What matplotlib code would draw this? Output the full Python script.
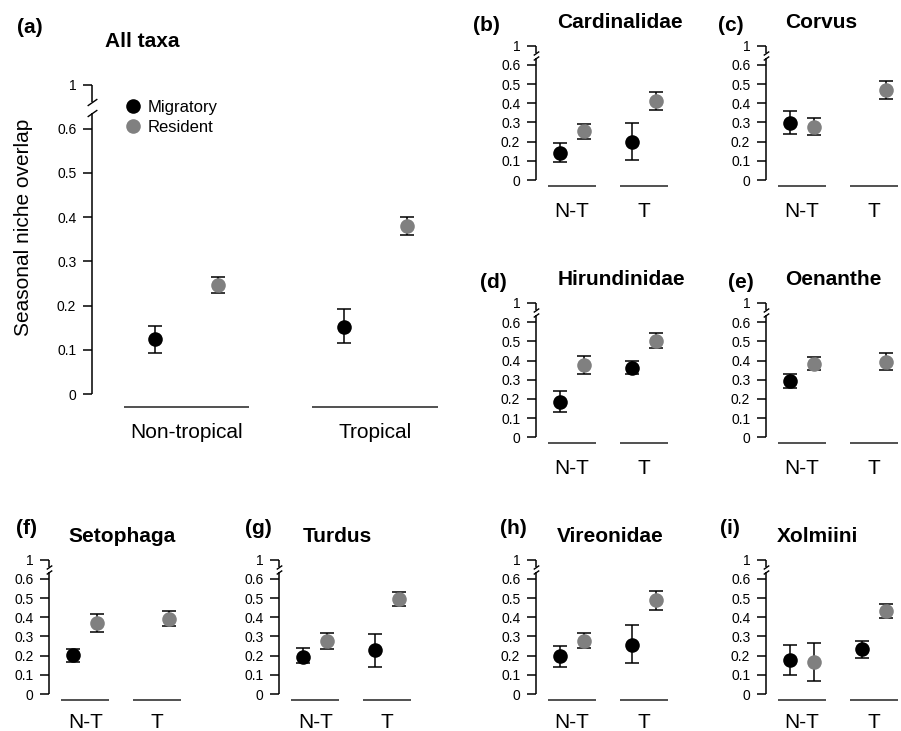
import matplotlib
matplotlib.use('Agg')
import matplotlib.pyplot as plt
import numpy as np
from matplotlib.path import Path
from matplotlib.lines import Line2D

plt.rcParams['font.family'] = ['Liberation Sans', 'DejaVu Sans']

# ---------------- data ----------------
groups_big = ['Non-tropical', 'Tropical']
groups_small = ['N-T', 'T']
ytick_vals = [0, 0.1, 0.2, 0.3, 0.4, 0.5, 0.6, 0.7]
ytick_labels = ['0', '0.1', '0.2', '0.3', '0.4', '0.5', '0.6', '1']

nan = np.nan
a_mig = [0.124, 0.152]; a_mig_lo = [0.092, 0.115]; a_mig_hi = [0.154, 0.192]
a_res = [0.247, 0.379]; a_res_lo = [0.229, 0.360]; a_res_hi = [0.265, 0.400]

b_mig = [0.142, 0.200]; b_mig_lo = [0.094, 0.102]; b_mig_hi = [0.191, 0.299]
b_res = [0.255, 0.411]; b_res_lo = [0.215, 0.366]; b_res_hi = [0.293, 0.460]

c_mig = [0.295, nan]; c_mig_lo = [0.241, nan]; c_mig_hi = [0.358, nan]
c_res = [0.278, 0.469]; c_res_lo = [0.236, 0.420]; c_res_hi = [0.325, 0.514]

d_mig = [0.185, 0.363]; d_mig_lo = [0.131, 0.329]; d_mig_hi = [0.240, 0.396]
d_res = [0.379, 0.503]; d_res_lo = [0.332, 0.464]; d_res_hi = [0.426, 0.545]

e_mig = [0.292, nan]; e_mig_lo = [0.258, nan]; e_mig_hi = [0.332, nan]
e_res = [0.384, 0.393]; e_res_lo = [0.349, 0.349]; e_res_hi = [0.419, 0.438]

f_mig = [0.203, nan]; f_mig_lo = [0.169, nan]; f_mig_hi = [0.233, nan]
f_res = [0.369, 0.393]; f_res_lo = [0.323, 0.355]; f_res_hi = [0.417, 0.433]

g_mig = [0.195, 0.230]; g_mig_lo = [0.160, 0.143]; g_mig_hi = [0.240, 0.313]
g_res = [0.275, 0.496]; g_res_lo = [0.233, 0.459]; g_res_hi = [0.317, 0.530]

h_mig = [0.198, 0.257]; h_mig_lo = [0.143, 0.160]; h_mig_hi = [0.252, 0.357]
h_res = [0.278, 0.489]; h_res_lo = [0.237, 0.438]; h_res_hi = [0.320, 0.536]

i_mig = [0.177, 0.233]; i_mig_lo = [0.101, 0.188]; i_mig_hi = [0.256, 0.277]
i_res = [0.169, 0.431]; i_res_lo = [0.068, 0.397]; i_res_hi = [0.264, 0.468]

MIG_COLOR = 'black'
RES_COLOR = '#808080'

# ---------------- layout helpers ----------------
W, H = 901, 731
fig = plt.figure(figsize=(W / 100, H / 100), dpi=100)

XLIM = (0.5, 2.37)
YLIM = (-0.04, 0.72)


def add_ax(x0px, y0px, pxx, pxy):
    left = x0px
    right = x0px + (XLIM[1] - XLIM[0]) * pxx
    bottom_px = y0px - YLIM[0] * pxy
    top_px = y0px - YLIM[1] * pxy
    ax = fig.add_axes([left / W, 1 - bottom_px / H, (right - left) / W,
                       (bottom_px - top_px) / H])
    ax.set_xlim(XLIM)
    ax.set_ylim(YLIM)
    ax.patch.set_alpha(0)
    return ax


slash = Path([(-1.0, -0.7), (1.0, 0.7)], [Path.MOVETO, Path.LINETO])


def draw(ax, mig, mlo, mhi, res, rlo, rhi, labels, big, xpad):
    x = np.array([1.0, 2.0])
    off = 1 / 6
    for vals, lo, hi, col, dx in [(mig, mlo, mhi, MIG_COLOR, -off),
                                  (res, rlo, rhi, RES_COLOR, off)]:
        v = np.array(vals, float)
        l = np.array(lo, float)
        h = np.array(hi, float)
        ok = ~np.isnan(v)
        ax.errorbar(x[ok] + dx, v[ok], yerr=[v[ok] - l[ok], h[ok] - v[ok]],
                    fmt='none', ecolor='black', elinewidth=1.1,
                    capsize=5, capthick=1.1, clip_on=False, zorder=2)
        ax.plot(x[ok] + dx, v[ok], ls='none', marker='o', ms=10.5,
                color=col, mec=col, mew=0, clip_on=False, zorder=3)
    # group lines
    ax.hlines(np.full(2, -0.03), x - 1 / 3, x + 1 / 3, color='#333333',
              lw=1.2, clip_on=False)
    for s in ax.spines.values():
        s.set_visible(False)
    # broken y axis
    lo_b, hi_b = 0.636, 0.661
    ax.plot([0.5, 0.5], [0, lo_b], color='black', lw=1.1, clip_on=False,
            solid_capstyle='butt')
    ax.plot([0.5, 0.5], [hi_b, 0.7], color='black', lw=1.1, clip_on=False,
            solid_capstyle='butt')
    ax.plot([0.5, 0.5], [lo_b, hi_b], ls='none', marker=slash,
            ms=7 if big else 4, mew=1.0, color='black', clip_on=False)
    ax.set_yticks(ytick_vals, ytick_labels)
    ax.tick_params(axis='y', length=6.3, width=1.1, pad=5, labelsize=10,
                   direction='out')
    ax.set_xticks([1, 2], labels)
    ax.tick_params(axis='x', length=0, pad=xpad, labelsize=15)


def label(xpx, ybase, text):
    fig.text(xpx / W, 1 - ybase / H, text, fontsize=15, fontweight='bold',
             va='baseline', ha='left')


# ---------------- panel (a) ----------------
ax_a = add_ax(92, 394, 189, 442)
draw(ax_a, a_mig, a_mig_lo, a_mig_hi, a_res, a_res_lo, a_res_hi,
     groups_big, True, 8)
label(17, 33, '(a)')
label(105, 47, 'All taxa')
fig.text(24 / W, 1 - 227.5 / H, 'Seasonal niche overlap', rotation=90,
         fontsize=15, va='center', ha='center')
handles = [Line2D([], [], ls='none', marker='o', ms=10.5, color=MIG_COLOR,
                  mew=0),
           Line2D([], [], ls='none', marker='o', ms=10.5, color=RES_COLOR,
                  mew=0)]
ax_a.legend(handles, ['Migratory', 'Resident'], loc='upper left',
            bbox_to_anchor=(124.5 / W, 1 - 100 / H),
            bbox_transform=fig.transFigure, frameon=False, fontsize=12,
            handlelength=1.0, handletextpad=0.4, labelspacing=0.3,
            borderpad=0, borderaxespad=0)

# ---------------- small panels ----------------
small = [
    ('(b)', 'Cardinalidae', 536, 180, b_mig, b_mig_lo, b_mig_hi, b_res, b_res_lo, b_res_hi,
     (473, 31), (557, 28)),
    ('(c)', 'Corvus', 766, 180, c_mig, c_mig_lo, c_mig_hi, c_res, c_res_lo, c_res_hi,
     (718, 31), (785, 28)),
    ('(d)', 'Hirundinidae', 536, 437.3, d_mig, d_mig_lo, d_mig_hi, d_res, d_res_lo, d_res_hi,
     (480, 288), (558, 285)),
    ('(e)', 'Oenanthe', 766, 437.3, e_mig, e_mig_lo, e_mig_hi, e_res, e_res_lo, e_res_hi,
     (728, 288), (785, 285)),
    ('(f)', 'Setophaga', 49.3, 694, f_mig, f_mig_lo, f_mig_hi, f_res, f_res_lo, f_res_hi,
     (16, 534), (68, 541.5)),
    ('(g)', 'Turdus', 279.3, 694, g_mig, g_mig_lo, g_mig_hi, g_res, g_res_lo, g_res_hi,
     (245, 534), (303, 541.5)),
    ('(h)', 'Vireonidae', 536, 694, h_mig, h_mig_lo, h_mig_hi, h_res, h_res_lo, h_res_hi,
     (500, 534), (557, 541.5)),
    ('(i)', 'Xolmiini', 766, 694, i_mig, i_mig_lo, i_mig_hi, i_res, i_res_lo, i_res_hi,
     (720, 534), (777, 541.5)),
]

for (let, title, x0, y0, m, ml, mh, r, rl, rh, lpos, tpos) in small:
    ax = add_ax(x0, y0, 72, 192)
    pad = 8.5 if y0 > 600 else 10
    draw(ax, m, ml, mh, r, rl, rh, groups_small, False, pad)
    label(lpos[0], lpos[1], let)
    label(tpos[0], tpos[1], title)

fig.savefig('out.png', dpi=100)
